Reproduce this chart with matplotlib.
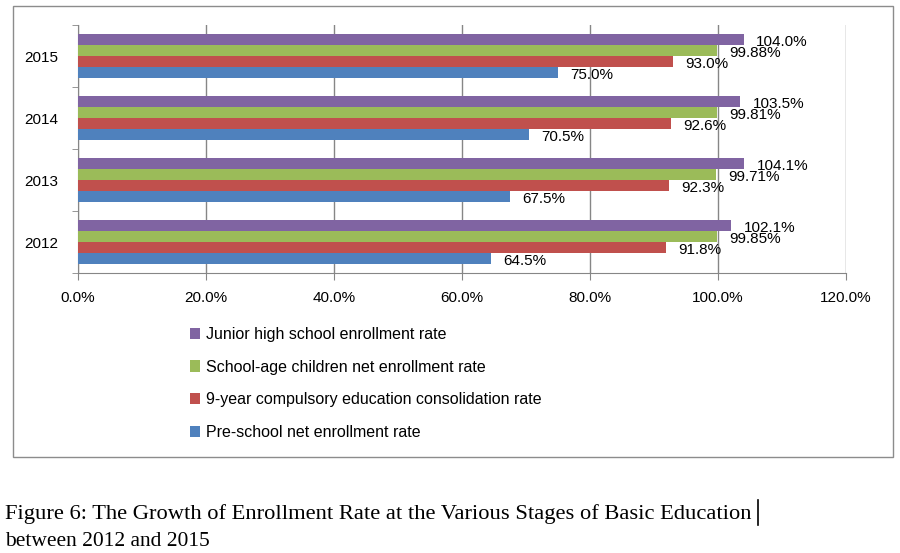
import matplotlib
matplotlib.use("Agg")
import matplotlib.pyplot as plt
from matplotlib.patches import Rectangle, Patch
from matplotlib.lines import Line2D
import numpy as np

years = ["2012", "2013", "2014", "2015"]
preschool = [64.5, 67.5, 70.5, 75.0]
compulsory = [91.8, 92.3, 92.6, 93.0]
school_age = [99.85, 99.71, 99.81, 99.88]
junior_high = [102.1, 104.1, 103.5, 104.0]
x_ticks = [0, 20, 40, 60, 80, 100, 120]

series = [
    ("Pre-school net enrollment rate", preschool, "#4F81BD", 1),
    ("9-year compulsory education consolidation rate", compulsory, "#C0504D", 1),
    ("School-age children net enrollment rate", school_age, "#9BBB59", 2),
    ("Junior high school enrollment rate", junior_high, "#8064A2", 1),
]

W, H = 900, 553
fig = plt.figure(figsize=(W / 100, H / 100), dpi=100)
fig.patch.set_facecolor("white")

# outer chart box
fig.patches.append(Rectangle((13 / W, 1 - 457 / H), 880 / W, 451 / H,
                             transform=fig.transFigure, fill=False,
                             edgecolor="#8c8c8c", linewidth=1.0))

ax = fig.add_axes([78 / W, 1 - 273 / H, 768 / W, 248 / H])
font = "Liberation Sans"
h = 0.178
y = np.arange(len(years))
handles = []
for i, (name, vals, color, dec) in enumerate(series):
    off = (i - 1.5) * h
    ax.barh(y + off, vals, height=h, color=color, zorder=3)
    for yy, v in zip(y, vals):
        ax.annotate(f"{v:.{dec}f}%", xy=(v, yy + off), xytext=(9, -2),
                    textcoords="offset points", va="center", ha="left",
                    fontsize=11, family=font, color="black", zorder=4)
    handles.append(Patch(facecolor=color, edgecolor="none", label=name))

ax.set_xlim(0, 120)
ax.set_ylim(-0.5, len(years) - 0.5)
ax.set_xticks(x_ticks)
ax.set_xticklabels([f"{t:.1f}%" for t in x_ticks], family=font, fontsize=11)
ax.set_yticks(y)
ax.set_yticklabels(years, family=font, fontsize=11)
ax.set_yticks(np.arange(-0.5, len(years)), minor=True)
ax.tick_params(axis="y", which="major", length=0, pad=14)
ax.tick_params(axis="y", which="minor", length=4, color="#868686", direction="out")
ax.tick_params(axis="x", which="major", length=5, color="#868686", direction="out", pad=8)
ax.grid(axis="x", color="#868686", linewidth=1.0, zorder=0)
for s in ["top", "right"]:
    ax.spines[s].set_visible(False)
for s in ["left", "bottom"]:
    ax.spines[s].set_color("#868686")
ax.set_facecolor("white")

fig.legend(handles=handles[::-1], loc="upper left",
           bbox_to_anchor=(190 / W, 1 - 327 / H), frameon=False,
           prop={"family": font, "size": 11.5}, handlelength=0.65,
           handleheight=0.7, handletextpad=0.35, labelspacing=1.1,
           borderpad=0, borderaxespad=0)

fig.text(5 / W, 1 - 519 / H,
         "Figure 6: The Growth of Enrollment Rate at the Various Stages of Basic Education",
         family="Liberation Serif", fontsize=16.2, va="baseline", ha="left")
fig.text(5 / W, 1 - 546 / H, "between 2012 and 2015",
         family="Liberation Serif", fontsize=15.5, va="baseline", ha="left")
fig.lines.append(Line2D([758 / W, 758 / W], [1 - 525 / H, 1 - 500 / H],
                        transform=fig.transFigure, color="black", linewidth=1.2))

fig.savefig("out.png", dpi=100)
